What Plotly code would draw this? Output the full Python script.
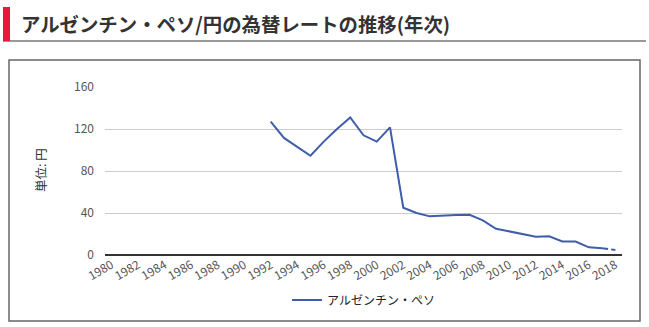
import plotly.graph_objects as go

years = [str(y) for y in range(1980, 2019)]
rates = [None] * 12 + [
    127, 111.5, 103, 94.5, 108, 120, 131, 114, 108, 121.5,
    45, 40, 36.8, 37.8, 38.2, 38.3, 33, 25, 22.3, 19.5,
    17.5, 17.8, 12.9, 12.8, 7.3, 6.5, 4.8,
]
tick_years = [str(y) for y in range(1980, 2019, 2)]
y_ticks = [0, 40, 80, 120, 160]
series_name = "アルゼンチン・ペソ"
title_text = "アルゼンチン・ペソ/円の為替レートの推移(年次)"
y_title = "単位: 円"

W, H = 649, 327
L, R, T, B = 105, 622, 87, 255


def px(x):
    return (x - L) / (R - L)


def py(y):
    return (B - y) / (B - T)


FONT = "Noto Sans CJK JP, Meiryo, sans-serif"
COLOR = "#3f5da8"

fig = go.Figure()
fig.add_trace(go.Scatter(
    x=years[:-1], y=rates[:-1], mode="lines", name=series_name,
    line=dict(color=COLOR, width=2), connectgaps=False,
))
fig.add_trace(go.Scatter(
    x=years[-2:], y=rates[-2:], mode="lines", showlegend=False,
    line=dict(color=COLOR, width=2, dash="6px,3px"), hoverinfo="skip",
))

fig.update_layout(
    width=W, height=H,
    margin=dict(l=L, r=W - R, t=T, b=H - B, autoexpand=False),
    paper_bgcolor="white", plot_bgcolor="white",
    font=dict(family=FONT, size=11, color="#444"),
    showlegend=True,
    legend=dict(orientation="h", x=0.5, xanchor="center", y=py(300), yanchor="middle",
                font=dict(size=12, color="#222", family=FONT), itemwidth=30),
    xaxis=dict(type="category", categoryorder="array", categoryarray=years,
               range=[-0.5, len(years) - 0.5],
               tickmode="array", tickvals=tick_years, ticktext=tick_years,
               tickangle=-30, showgrid=False, zeroline=False, showline=False,
               ticks="", tickfont=dict(size=12, color="#555"), fixedrange=True),
    yaxis=dict(range=[0, 160], tickmode="array", tickvals=y_ticks,
               showgrid=True, gridcolor="#cccccc", gridwidth=1,
               zeroline=True, zerolinecolor="#333333", zerolinewidth=1.5,
               showline=False, ticks="", ticklabelstandoff=10,
               tickfont=dict(size=12, color="#555"), fixedrange=True),
)

shapes = [
    # chart frame
    dict(type="rect", xref="paper", yref="paper",
         x0=px(9), x1=px(640), y0=py(321), y1=py(60),
         line=dict(color="#666666", width=1.5), fillcolor="rgba(0,0,0,0)", layer="below"),
    # title underline
    dict(type="line", xref="paper", yref="paper",
         x0=px(3), x1=px(646), y0=py(41), y1=py(41),
         line=dict(color="#777777", width=1.5)),
    # red bar
    dict(type="rect", xref="paper", yref="paper",
         x0=px(3), x1=px(10), y0=py(41), y1=py(7),
         line=dict(width=0), fillcolor="#e8173c"),
]
fig.update_layout(shapes=shapes)

fig.add_annotation(text=title_text, xref="paper", yref="paper",
                   x=px(19), y=py(23), xanchor="left", yanchor="middle",
                   showarrow=False,
                   font=dict(size=19.4, color="#333333", family=FONT, weight="bold"))
fig.add_annotation(text=y_title, xref="paper", yref="paper",
                   x=px(40), y=py(170), xanchor="center", yanchor="middle",
                   textangle=-90, showarrow=False,
                   font=dict(size=12.5, color="#333333", family=FONT))

fig.write_html("out.html")
